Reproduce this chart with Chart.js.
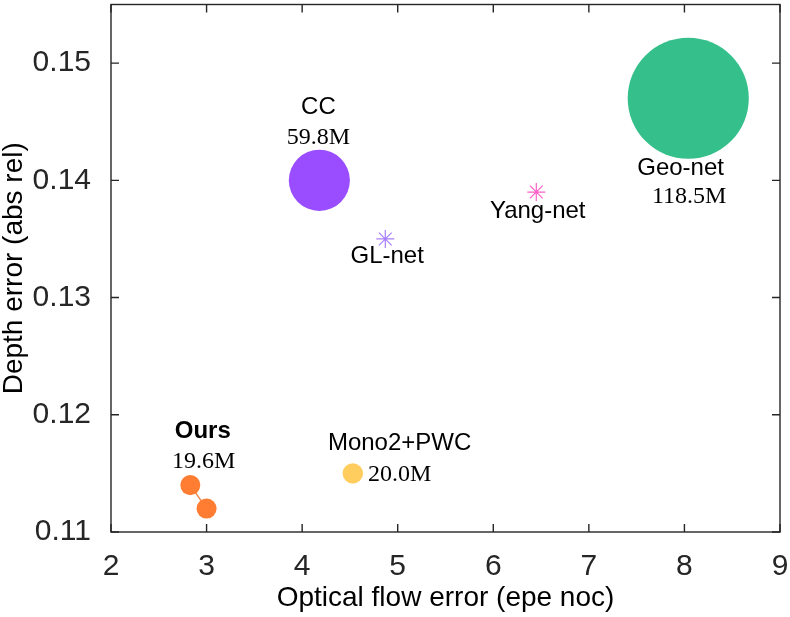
<!DOCTYPE html>
<html>
<head>
<meta charset="utf-8">
<script src="https://cdn.jsdelivr.net/npm/chart.js@4.4.0/dist/chart.umd.min.js"></script>
<style>
  html, body { margin: 0; padding: 0; background: #fff; }
  #wrap { width: 790px; height: 617px; }
</style>
</head>
<body>
<div id="wrap"><canvas id="tradeoffChart"></canvas></div>
<script>
// values
const xTicks = [2, 3, 4, 5, 6, 7, 8, 9];
const yTicks = [0.11, 0.12, 0.13, 0.14, 0.15];

const names = ['Mono2+PWC', 'CC', 'GL-net', 'Yang-net', 'Geo-net'];
const flowEpe = [4.53, 4.18, 4.87, 6.45, 8.04];
const depthAbsRel = [0.115, 0.140, 0.135, 0.139, 0.147];
const paramsM = [20.0, 59.8, null, null, 118.5];

const oursFlowEpe = [2.83, 3.0];
const oursAbsRel = [0.114, 0.112];
const oursParamsM = 19.6;

const colors = ['#ffcc5e', '#9a4dff', '#a880ff', '#ff5fc9', '#35c08b'];
const oursColor = '#ff7d33';

const SANS = "'Liberation Sans', Arial, Helvetica, sans-serif";
const SERIF = "'Liberation Serif', 'Times New Roman', serif";
const pxPerM = 0.511; // bubble radius per million params

// text annotations, anchored in data units
const notes = [
    { text: 'Ours', x: 2.96, y: 0.11855, bold: true },
    { text: oursParamsM.toFixed(1) + 'M', x: 2.97, y: 0.11598, serif: true },
    { text: 'Mono2+PWC', x: 5.02, y: 0.11756 },
    { text: paramsM[0].toFixed(1) + 'M', x: 4.69, y: 0.11485, serif: true, align: 'left' },
    { text: 'CC', x: 4.17, y: 0.14621 },
    { text: paramsM[1].toFixed(1) + 'M', x: 4.17, y: 0.14364, serif: true },
    { text: 'GL-net', x: 4.89, y: 0.1335 },
    { text: 'Yang-net', x: 6.465, y: 0.13735 },
    { text: 'Geo-net', x: 7.96, y: 0.14106 },
    { text: paramsM[4].toFixed(1) + 'M', x: 8.05, y: 0.13863, serif: true }
];

function buildDatasets() {
    let sets = [];
    sets.push({
        label: 'Ours',
        data: oursFlowEpe.map((v, i) => ({ x: v, y: oursAbsRel[i] })),
        showLine: true,
        borderColor: '#e98a4e',
        borderWidth: 1.5,
        pointRadius: oursParamsM * pxPerM,
        pointBackgroundColor: oursColor,
        pointBorderWidth: 0
    });
    names.forEach((n, i) => {
        let isStar = paramsM[i] === null;
        sets.push({
            label: n,
            data: [{ x: flowEpe[i], y: depthAbsRel[i] }],
            pointStyle: isStar ? 'star' : 'circle',
            pointRadius: isStar ? 9 : paramsM[i] * pxPerM,
            pointBackgroundColor: colors[i],
            pointBorderColor: colors[i],
            pointBorderWidth: isStar ? 1.2 : 0
        });
    });
    return sets;
}

const boxPlugin = {
    id: 'boxPlugin',
    afterDatasetsDraw(chart) {
        let ctx = chart.ctx;
        let a = chart.chartArea;
        let sx = chart.scales.x, sy = chart.scales.y;
        ctx.save();
        ctx.strokeStyle = '#262626';
        ctx.lineWidth = 1.4;
        ctx.strokeRect(a.left, a.top, a.right - a.left, a.bottom - a.top);
        ctx.beginPath();
        xTicks.forEach(v => {
            let px = sx.getPixelForValue(v);
            ctx.moveTo(px, a.bottom); ctx.lineTo(px, a.bottom - 8);
            ctx.moveTo(px, a.top); ctx.lineTo(px, a.top + 8);
        });
        yTicks.forEach(v => {
            let py = sy.getPixelForValue(v);
            ctx.moveTo(a.left, py); ctx.lineTo(a.left + 8, py);
            ctx.moveTo(a.right, py); ctx.lineTo(a.right - 8, py);
        });
        ctx.stroke();

        // labels
        ctx.fillStyle = '#000';
        ctx.textBaseline = 'middle';
        notes.forEach(n => {
            ctx.font = (n.bold ? 'bold ' : '') + '24px ' + (n.serif ? SERIF : SANS);
            ctx.textAlign = n.align || 'center';
            ctx.fillText(n.text, sx.getPixelForValue(n.x), sy.getPixelForValue(n.y));
        });
        ctx.restore();
    }
};

function noPad(s) {
    s.paddingTop = 0;
    s.paddingBottom = 0;
    s.paddingLeft = 0;
    s.paddingRight = 0;
}

function manageTradeoffChart() {
    let ctx = document.getElementById('tradeoffChart').getContext('2d');
    let chart = new Chart(ctx, {
        type: 'scatter',
        data: { datasets: buildDatasets() },
        options: {
            responsive: true,
            maintainAspectRatio: false,
            animation: false,
            layout: { autoPadding: false, padding: { top: 4.5, right: 10, left: 0, bottom: 0 } },
            plugins: {
                legend: { display: false },
                tooltip: { enabled: false }
            },
            scales: {
                x: {
                    type: 'linear',
                    min: 2,
                    max: 9,
                    afterBuildTicks: s => { s.ticks = xTicks.map(v => ({ value: v })); },
                    afterFit: s => { s.height = 85; noPad(s); },
                    grid: { display: false },
                    border: { display: false },
                    ticks: {
                        padding: 9,
                        color: '#262626',
                        font: { family: SANS, size: 30, lineHeight: 1.2 },
                        callback: v => String(v)
                    },
                    title: {
                        display: true,
                        text: 'Optical flow error (epe noc)',
                        color: '#000',
                        padding: { top: 0, bottom: 5 },
                        font: { family: SANS, size: 28, lineHeight: 1 }
                    }
                },
                y: {
                    type: 'linear',
                    min: 0.11,
                    max: 0.155,
                    afterBuildTicks: s => { s.ticks = yTicks.map(v => ({ value: v })); },
                    afterFit: s => { s.width = 111; noPad(s); },
                    grid: { display: false },
                    border: { display: false },
                    ticks: {
                        padding: 12,
                        color: '#262626',
                        font: { family: SANS, size: 30 },
                        callback: v => v.toFixed(2)
                    },
                    title: {
                        display: true,
                        text: 'Depth error (abs rel)',
                        color: '#000',
                        padding: { top: 0, bottom: 0 },
                        font: { family: SANS, size: 28, lineHeight: 1 }
                    }
                }
            }
        },
        plugins: [boxPlugin]
    });
}

manageTradeoffChart();
</script>
</body>
</html>
